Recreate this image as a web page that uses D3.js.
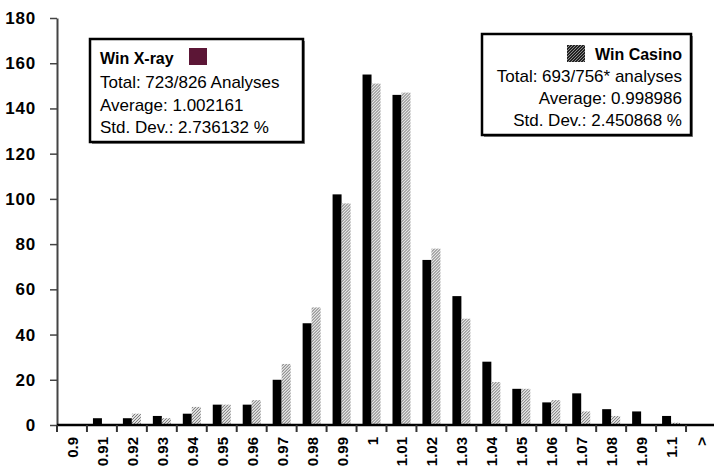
<!DOCTYPE html>
<html>
<head>
<meta charset="utf-8">
<script src="https://cdn.jsdelivr.net/npm/d3@7"></script>
<style>
  body { margin: 0; background: #fff; }
  svg { display: block; font-family: "Liberation Sans", Arial, sans-serif; }
</style>
</head>
<body>
<div id="chart"></div>
<script>
const categories = ["0.9", "0.91", "0.92", "0.93", "0.94", "0.95", "0.96", "0.97", "0.98", "0.99",
  "1", "1.01", "1.02", "1.03", "1.04", "1.05", "1.06", "1.07", "1.08", "1.09", "1.1", ">"];
const xray = [0, 3, 3, 4, 5, 9, 9, 20, 45, 102, 155, 146, 73, 57, 28, 16, 10, 14, 7, 6, 4, 0];
const casino = [0, 0, 5, 3, 8, 9, 11, 27, 52, 98, 151, 147, 78, 47, 19, 16, 11, 6, 4, 0, 1, 0];
const seriesNames = ["Win X-ray", "Win Casino"];
const yTicks = [0, 20, 40, 60, 80, 100, 120, 140, 160, 180];
const xrayLegend = ["Total: 723/826 Analyses", "Average: 1.002161", "Std. Dev.: 2.736132 %"];
const casinoLegend = ["Total: 693/756* analyses", "Average: 0.998986", "Std. Dev.: 2.450868 %"];

(function () {
  const width = 714, height = 467;
  const margin = { top: 18, right: -2, bottom: 42, left: 57 };
  const innerWidth = width - margin.left - margin.right;
  const innerHeight = height - margin.top - margin.bottom;

  const svg = d3.select("#chart").append("svg")
    .attr("width", width).attr("height", height);

  const defs = svg.append("defs");
  const hatch = defs.append("pattern")
    .attr("id", "hatch").attr("patternUnits", "userSpaceOnUse")
    .attr("width", 3).attr("height", 3);
  hatch.append("rect").attr("width", 3).attr("height", 3).attr("fill", "#e6e6e6");
  hatch.append("path").attr("d", "M0,3 L3,0").attr("stroke", "#6e6e6e").attr("stroke-width", 1);

  const hatchDark = defs.append("pattern")
    .attr("id", "hatchDark").attr("patternUnits", "userSpaceOnUse")
    .attr("width", 3).attr("height", 3);
  hatchDark.append("rect").attr("width", 3).attr("height", 3).attr("fill", "#222");
  hatchDark.append("path").attr("d", "M0,3 L3,0").attr("stroke", "#aaa").attr("stroke-width", 0.8);

  const g = svg.append("g").attr("transform", `translate(${margin.left},${margin.top})`);

  const x0 = d3.scaleBand().domain(categories).range([0, innerWidth])
    .paddingInner(0.4).paddingOuter(0.2);
  const x1 = d3.scaleBand().domain(seriesNames).range([0, x0.bandwidth()]);
  const y = d3.scaleLinear().domain([0, 180]).range([innerHeight, 0]);

  const data = categories.map((c, i) => ({ cat: c, values: [xray[i], casino[i]] }));

  const groups = g.selectAll(".grp").data(data).join("g")
    .attr("transform", d => `translate(${x0(d.cat)},0)`);
  groups.selectAll("rect")
    .data(d => d.values.map((v, i) => ({ name: seriesNames[i], v })))
    .join("rect")
    .attr("x", d => x1(d.name))
    .attr("y", d => y(d.v))
    .attr("width", x1.bandwidth())
    .attr("height", d => innerHeight - y(d.v))
    .attr("fill", d => d.name === "Win X-ray" ? "#000" : "url(#hatch)");

  // y axis
  const yAxis = g.append("g")
    .call(d3.axisLeft(y).tickValues(yTicks).tickSize(7).tickSizeOuter(0).tickPadding(14));
  yAxis.select(".domain").attr("stroke", "#444").attr("stroke-width", 2);
  yAxis.selectAll(".tick line").attr("stroke", "#444").attr("stroke-width", 1.5);
  yAxis.selectAll("text").attr("font-size", 17).attr("font-weight", "bold")
    .attr("letter-spacing", 0.8)
    .attr("fill", "#000").attr("font-family", "Liberation Sans, Arial, sans-serif");

  // x axis
  const step = x0.step();
  const xAxis = g.append("g").attr("transform", `translate(0,${innerHeight})`);
  xAxis.append("line").attr("x1", 0).attr("x2", innerWidth)
    .attr("stroke", "#000").attr("stroke-width", 2.5);
  xAxis.selectAll(".xt").data(categories).join("line")
    .attr("x1", d => x0(d) - x0.paddingOuter() * step)
    .attr("x2", d => x0(d) - x0.paddingOuter() * step)
    .attr("y1", 0).attr("y2", 7)
    .attr("stroke", "#333").attr("stroke-width", 2);
  xAxis.selectAll(".xl").data(categories).join("text")
    .attr("transform", d => `translate(${x0(d) + x0.bandwidth() / 2 + 6},12) rotate(-90)`)
    .attr("text-anchor", "end")
    .attr("font-size", 15).attr("font-weight", "bold")
    .text(d => d);

  // legends
  function legendBox(x, yTop, w, h) {
    svg.append("rect").attr("x", x + 2).attr("y", yTop + 2).attr("width", w).attr("height", h)
      .attr("fill", "#888");
    svg.append("rect").attr("x", x).attr("y", yTop).attr("width", w).attr("height", h)
      .attr("fill", "#fff").attr("stroke", "#000").attr("stroke-width", 2.5);
  }

  legendBox(90, 39, 213, 103);
  svg.append("text").attr("x", 100).attr("y", 64)
    .attr("font-size", 16).attr("font-weight", "bold").text(seriesNames[0]);
  svg.append("rect").attr("x", 189).attr("y", 48).attr("width", 18).attr("height", 17)
    .attr("fill", "#5c1636");
  svg.selectAll(".lx").data(xrayLegend).join("text")
    .attr("x", 100).attr("y", (d, i) => 88 + i * 22.5)
    .attr("font-size", 17).text(d => d);

  legendBox(482, 34, 209, 101);
  svg.append("text").attr("x", 682).attr("y", 60).attr("text-anchor", "end")
    .attr("font-size", 16).attr("font-weight", "bold").text(seriesNames[1]);
  svg.append("rect").attr("x", 567).attr("y", 45).attr("width", 18).attr("height", 17)
    .attr("fill", "url(#hatchDark)");
  svg.selectAll(".lc").data(casinoLegend).join("text")
    .attr("x", 682).attr("y", (d, i) => 82 + i * 22)
    .attr("text-anchor", "end")
    .attr("font-size", 17).text(d => d);
})();
</script>
</body>
</html>
